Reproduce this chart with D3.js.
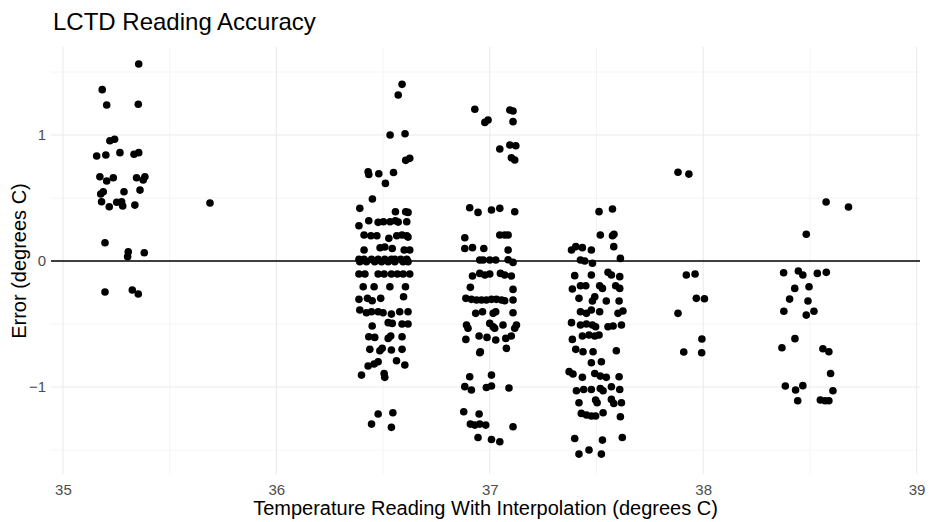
<!DOCTYPE html>
<html>
<head>
<meta charset="utf-8">
<script src="https://cdn.jsdelivr.net/npm/d3@7"></script>
<style>
  body { margin: 0; background: #fff; }
  text { font-family: "Liberation Sans", Arial, sans-serif; }
</style>
</head>
<body>
<svg></svg>
<script>
const width = 929;
const height = 522;

// [temperature reading, error], grouped by cluster
const group35 = [
  [35.355, 1.563], [35.184, 1.360], [35.205, 1.238], [35.353, 1.244], [35.220, 0.955],
  [35.242, 0.966], [35.158, 0.833], [35.201, 0.841], [35.267, 0.860], [35.333, 0.847],
  [35.355, 0.860], [35.173, 0.669], [35.205, 0.635], [35.236, 0.661], [35.345, 0.661],
  [35.384, 0.669], [35.376, 0.643], [35.361, 0.563], [35.286, 0.550], [35.189, 0.550],
  [35.177, 0.532], [35.181, 0.471], [35.217, 0.431], [35.252, 0.466], [35.275, 0.471],
  [35.280, 0.437], [35.337, 0.444], [35.197, 0.145], [35.306, 0.074], [35.303, 0.034],
  [35.381, 0.066], [35.197, -0.246], [35.325, -0.230], [35.353, -0.262]
];
const lonePoints = [
  [35.689, 0.460], [38.576, 0.468], [38.681, 0.429]
];
const group365 = [
  [36.589, 1.402], [36.571, 1.317], [36.533, 1.000], [36.603, 1.010], [36.606, 0.799],
  [36.625, 0.815], [36.430, 0.709], [36.433, 0.687], [36.480, 0.693], [36.549, 0.703],
  [36.511, 0.616], [36.450, 0.492], [36.391, 0.418], [36.558, 0.391], [36.606, 0.391],
  [36.617, 0.386], [36.387, 0.280], [36.433, 0.320], [36.477, 0.307], [36.502, 0.312],
  [36.533, 0.312], [36.558, 0.320], [36.571, 0.309], [36.611, 0.312], [36.411, 0.206],
  [36.443, 0.201], [36.471, 0.201], [36.527, 0.180], [36.564, 0.201], [36.589, 0.206],
  [36.611, 0.201], [36.617, 0.190], [36.411, 0.087], [36.486, 0.105], [36.508, 0.111],
  [36.543, 0.100], [36.599, 0.087], [36.625, 0.087],
  [36.387, 0.013], [36.411, 0.013], [36.446, 0.013], [36.477, 0.013], [36.508, 0.013],
  [36.539, 0.013], [36.555, 0.013], [36.583, 0.013], [36.611, 0.013],
  [36.391, -0.005], [36.422, -0.005], [36.461, -0.005], [36.493, -0.005], [36.524, -0.005],
  [36.555, -0.005], [36.594, -0.005], [36.617, -0.005],
  [36.387, -0.103], [36.415, -0.103], [36.477, -0.103], [36.505, -0.103], [36.539, -0.103],
  [36.567, -0.103], [36.594, -0.103], [36.625, -0.103],
  [36.407, -0.204], [36.458, -0.204], [36.532, -0.204], [36.605, -0.204],
  [36.387, -0.304], [36.427, -0.296], [36.449, -0.315], [36.489, -0.296], [36.596, -0.283],
  [36.391, -0.389], [36.422, -0.410], [36.446, -0.402], [36.477, -0.402], [36.500, -0.410],
  [36.539, -0.421], [36.578, -0.402], [36.617, -0.402],
  [36.449, -0.516], [36.524, -0.489], [36.543, -0.495], [36.589, -0.500], [36.617, -0.500],
  [36.433, -0.601], [36.461, -0.606], [36.524, -0.614], [36.536, -0.595], [36.589, -0.601],
  [36.438, -0.701], [36.485, -0.712], [36.496, -0.693], [36.539, -0.706], [36.589, -0.701],
  [36.430, -0.833], [36.458, -0.817], [36.477, -0.799], [36.563, -0.791], [36.602, -0.825],
  [36.399, -0.905], [36.505, -0.892], [36.508, -0.923],
  [36.477, -1.214], [36.546, -1.204], [36.446, -1.294], [36.539, -1.320]
];
const group37 = [
  [36.930, 1.204], [36.977, 1.100], [36.992, 1.119], [37.094, 1.198], [37.109, 1.190],
  [37.109, 1.106], [37.047, 0.889], [37.094, 0.921], [37.122, 0.915], [37.101, 0.820],
  [37.117, 0.802], [36.906, 0.423], [36.945, 0.386], [37.008, 0.405], [37.047, 0.418],
  [37.117, 0.391], [36.883, 0.185], [37.047, 0.206], [37.070, 0.206], [37.086, 0.206],
  [36.883, 0.100], [36.919, 0.106], [36.972, 0.100], [37.086, 0.087],
  [36.953, 0.008], [36.969, 0.008], [37.000, 0.008], [37.028, 0.008], [37.086, 0.010],
  [37.109, -0.011],
  [36.919, -0.119], [36.953, -0.098], [36.977, -0.111], [37.000, -0.103], [37.050, -0.098],
  [37.070, -0.111], [37.101, -0.119], [36.909, -0.209], [37.109, -0.225],
  [36.888, -0.296], [36.914, -0.304], [36.938, -0.309], [36.961, -0.309], [36.984, -0.309],
  [37.008, -0.304], [37.031, -0.304], [37.055, -0.309], [37.109, -0.309], [37.070, -0.315],
  [36.934, -0.415], [36.966, -0.402], [37.016, -0.415], [37.028, -0.402], [37.109, -0.410],
  [36.891, -0.508], [36.898, -0.534], [37.000, -0.495], [37.016, -0.521], [37.023, -0.534],
  [37.062, -0.508], [37.125, -0.508], [37.117, -0.534],
  [36.888, -0.622], [36.950, -0.595], [36.987, -0.606], [37.028, -0.627], [37.075, -0.614],
  [37.101, -0.595], [36.956, -0.720], [36.953, -0.728], [37.078, -0.693],
  [36.906, -0.918], [37.008, -0.905], [36.883, -0.997], [36.914, -1.024], [36.984, -1.003],
  [37.008, -0.992], [37.090, -1.008], [36.878, -1.196], [36.950, -1.214],
  [36.909, -1.294], [36.930, -1.302], [36.953, -1.294], [36.981, -1.302], [37.109, -1.315],
  [36.945, -1.400], [37.008, -1.416], [37.047, -1.434]
];
const group375 = [
  [37.512, 0.392], [37.575, 0.413], [37.518, 0.206], [37.575, 0.201], [37.582, 0.212],
  [37.581, 0.114], [37.383, 0.087], [37.403, 0.114], [37.434, 0.106], [37.476, 0.087],
  [37.612, 0.021], [37.425, 0.008], [37.445, 0.000], [37.481, -0.018],
  [37.398, -0.116], [37.476, -0.111], [37.554, -0.090], [37.570, -0.111], [37.609, -0.124],
  [37.387, -0.222], [37.425, -0.196], [37.450, -0.196], [37.515, -0.196], [37.528, -0.217],
  [37.590, -0.196], [37.609, -0.217],
  [37.418, -0.296], [37.481, -0.317], [37.492, -0.283], [37.546, -0.317], [37.606, -0.317],
  [37.425, -0.402], [37.453, -0.415], [37.476, -0.389], [37.515, -0.402], [37.601, -0.415],
  [37.624, -0.397],
  [37.383, -0.489], [37.425, -0.508], [37.453, -0.500], [37.481, -0.508], [37.496, -0.521],
  [37.554, -0.521], [37.578, -0.516], [37.617, -0.508],
  [37.387, -0.622], [37.434, -0.595], [37.465, -0.587], [37.492, -0.595], [37.512, -0.587],
  [37.403, -0.701], [37.437, -0.720], [37.484, -0.720], [37.593, -0.712],
  [37.476, -0.807], [37.523, -0.799],
  [37.372, -0.878], [37.390, -0.897], [37.434, -0.923], [37.492, -0.892], [37.518, -0.913],
  [37.546, -0.923], [37.606, -0.918],
  [37.406, -1.029], [37.440, -1.019], [37.476, -1.019], [37.518, -1.011], [37.531, -1.029],
  [37.570, -0.998], [37.609, -1.019],
  [37.418, -1.125], [37.496, -1.103], [37.503, -1.125], [37.570, -1.098], [37.581, -1.130],
  [37.617, -1.125],
  [37.429, -1.209], [37.453, -1.222], [37.476, -1.230], [37.496, -1.230], [37.531, -1.204],
  [37.612, -1.236],
  [37.398, -1.408], [37.528, -1.421], [37.621, -1.400],
  [37.418, -1.532], [37.465, -1.500], [37.523, -1.532]
];
const group38 = [
  [37.882, 0.704], [37.933, 0.690], [37.921, -0.111], [37.962, -0.103], [37.968, -0.296],
  [38.006, -0.299], [37.882, -0.415], [37.994, -0.619], [37.909, -0.722], [37.993, -0.728]
];
const group385 = [
  [38.483, 0.212], [38.377, -0.093], [38.446, -0.079], [38.467, -0.111], [38.535, -0.098],
  [38.577, -0.090], [38.429, -0.217], [38.496, -0.204], [38.405, -0.302], [38.491, -0.317],
  [38.378, -0.399], [38.483, -0.429], [38.519, -0.399], [38.430, -0.616], [38.369, -0.688],
  [38.561, -0.696], [38.589, -0.720], [38.597, -0.892], [38.385, -0.992], [38.433, -1.024],
  [38.467, -0.989], [38.608, -1.029], [38.443, -1.109], [38.549, -1.103], [38.571, -1.109],
  [38.589, -1.109]
];

const xTicks = [35, 36, 37, 38, 39];
const xMinor = [35.5, 36.5, 37.5, 38.5];
const yTicks = [-1, 0, 1];
const yMinor = [-1.5, -0.5, 0.5, 1.5];

const points = [].concat(group35, lonePoints, group365, group37, group375, group38, group385);

const svg = d3.select('svg')
  .attr('width', width)
  .attr('height', height);

const x = d3.scaleLinear().domain([34.944, 39.016]).range([51, 920]);
const y = d3.scaleLinear().domain([-1.69, 1.70]).range([474, 46.8]);

const grid = svg.append('g');

grid.selectAll('.xminor')
  .data(xMinor)
  .enter()
  .append('line')
    .attr('x1', d => x(d)).attr('x2', d => x(d))
    .attr('y1', y.range()[0]).attr('y2', y.range()[1])
    .style('stroke', '#ebebeb')
    .style('stroke-width', 0.55);

grid.selectAll('.yminor')
  .data(yMinor)
  .enter()
  .append('line')
    .attr('y1', d => y(d)).attr('y2', d => y(d))
    .attr('x1', x.range()[0]).attr('x2', x.range()[1])
    .style('stroke', '#ebebeb')
    .style('stroke-width', 0.55);

grid.selectAll('.xmajor')
  .data(xTicks)
  .enter()
  .append('line')
    .attr('x1', d => x(d)).attr('x2', d => x(d))
    .attr('y1', y.range()[0]).attr('y2', y.range()[1])
    .style('stroke', '#ebebeb')
    .style('stroke-width', 1.1);

grid.selectAll('.ymajor')
  .data(yTicks)
  .enter()
  .append('line')
    .attr('y1', d => y(d)).attr('y2', d => y(d))
    .attr('x1', x.range()[0]).attr('x2', x.range()[1])
    .style('stroke', '#ebebeb')
    .style('stroke-width', 1.1);

// reference line at zero error
svg.append('line')
  .attr('x1', x.range()[0]).attr('x2', x.range()[1])
  .attr('y1', y(0)).attr('y2', y(0))
  .style('stroke', 'black')
  .style('stroke-width', 1.6);

svg.append('g')
  .selectAll('circle')
  .data(points)
  .enter()
  .append('circle')
    .attr('cx', d => x(d[0]))
    .attr('cy', d => y(d[1]))
    .attr('r', 3.8)
    .style('fill', 'black');

// axes: labels only, no domain line or ticks (theme_minimal)
const xAxis = svg.append('g')
  .attr('transform', `translate(0,${y.range()[0]})`)
  .call(d3.axisBottom(x).tickValues(xTicks).tickFormat(d3.format('d')).tickSize(0).tickPadding(10));
xAxis.select('.domain').remove();
xAxis.selectAll('text').style('font-size', '15px').style('fill', '#4d4d4d');

const yAxis = svg.append('g')
  .attr('transform', `translate(${x.range()[0]},0)`)
  .call(d3.axisLeft(y).tickValues(yTicks).tickFormat(d3.format('d')).tickSize(0).tickPadding(5));
yAxis.select('.domain').remove();
yAxis.selectAll('text').style('font-size', '15px').style('fill', '#4d4d4d');

svg.append('text')
  .attr('x', 53)
  .attr('y', 30)
  .style('font-size', '24px')
  .style('fill', 'black')
  .text('LCTD Reading Accuracy');

svg.append('text')
  .attr('x', (x.range()[0] + x.range()[1]) / 2)
  .attr('y', 515)
  .attr('text-anchor', 'middle')
  .style('font-size', '20px')
  .style('fill', 'black')
  .text('Temperature Reading With Interpolation (degrees C)');

svg.append('text')
  .attr('transform', `translate(26,${y(0)}) rotate(-90)`)
  .attr('text-anchor', 'middle')
  .style('font-size', '20px')
  .style('fill', 'black')
  .text('Error (degrees C)');
</script>
</body>
</html>
